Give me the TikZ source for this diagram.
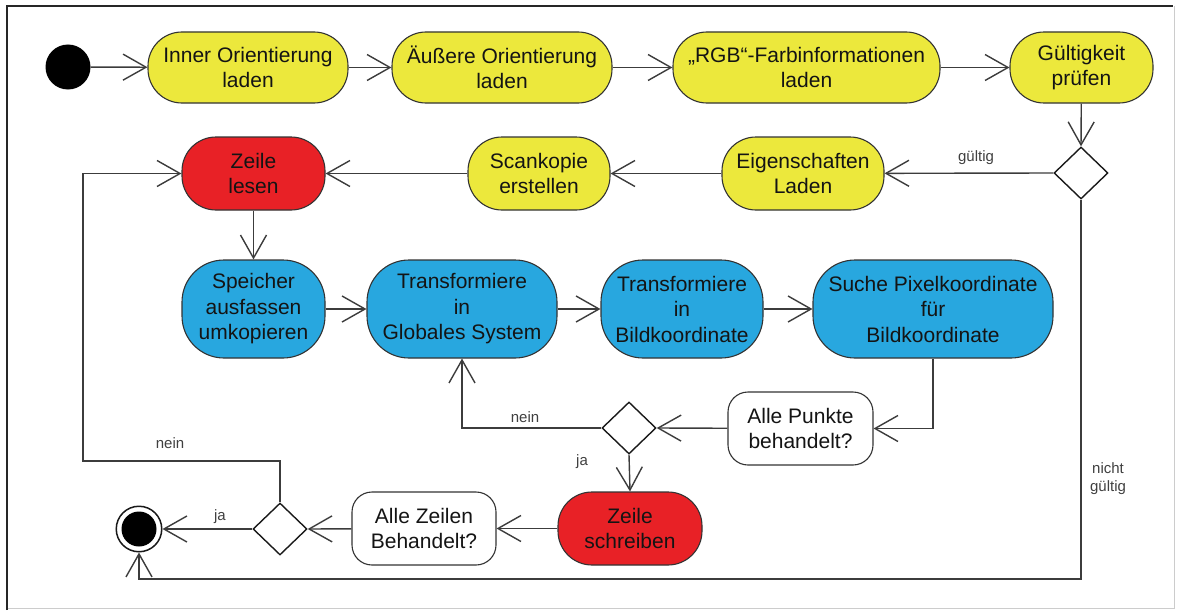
\documentclass[tikz,border=0pt]{standalone}
\usepackage{fontspec}
\setmainfont{Liberation Sans}
\usetikzlibrary{arrows.meta,shapes.geometric}
\definecolor{actyellow}{HTML}{ECE83C}
\definecolor{actred}{HTML}{E82126}
\definecolor{actblue}{HTML}{28A7DF}
\definecolor{edgegray}{HTML}{3C3C3C}
\begin{document}
\begin{tikzpicture}[x=1pt,y=-1pt,
  act/.style={draw=black!80, line width=1.1pt, align=center, inner sep=0pt,
    font=\fontsize{21}{25.5}\selectfont, text=black!92},
  yact/.style={act, fill=actyellow, rounded corners=34pt, minimum height=71pt},
  ract/.style={act, fill=actred, rounded corners=34pt, minimum height=73pt},
  bact/.style={act, fill=actblue, rounded corners=42pt, minimum height=98pt},
  qbox/.style={act, fill=white, rounded corners=20pt, minimum height=73pt},
  decision/.style={diamond, draw=black!90, line width=1.4pt, fill=white,
    minimum width=54pt, minimum height=52pt, inner sep=0pt},
  flow/.style={draw=edgegray, line width=1.4pt,
    -{Straight Barb[length=23pt,width=26pt]}},
  lbl/.style={font=\fontsize{15}{18}\selectfont, text=black!75, align=center}]

\useasboundingbox (0,0) rectangle (1177,610);
\fill[white] (0,0) rectangle (1177,610);

% frame
\draw[line width=2.2pt, black!85] (7,610) -- (7,6) -- (1173,6);
\draw[line width=0.8pt, black!20] (1174.5,6) -- (1174.5,608.5) -- (8,608.5);

% start and end
\node[circle, fill=black, minimum size=45pt, inner sep=0pt] (start) at (68,67) {};
\node[circle, draw=black!90, line width=1.5pt, minimum size=45.5pt, inner sep=0pt] (end) at (139,529) {};
\fill[black] (end.center) circle (17.5);

% first row
\node[yact, minimum width=200pt] (inner) at (248,67.5) {Inner Orientierung\\laden};
\node[yact, minimum width=220pt] (outer) at (502,67.5) {Äußere Orientierung\\laden};
\node[yact, minimum width=267pt] (rgb) at (806.5,67.5) {„RGB“-Farbinformationen\\laden};
\node[yact, minimum width=143pt] (valid) at (1081.5,67.5) {Gültigkeit\\prüfen};

% second row
\node[decision] (d1) at (1081,173) {};
\node[yact, minimum width=162pt, minimum height=73pt] (props) at (803,173.5) {Eigenschaften\\Laden};
\node[yact, minimum width=142pt, minimum height=73pt] (scan) at (539,173.5) {Scankopie\\erstellen};
\node[ract, minimum width=143pt] (readline) at (253.5,173.5) {Zeile\\lesen};

% third row
\node[bact, minimum width=143pt] (mem) at (253.5,309) {Speicher\\ausfassen\\umkopieren};
\node[bact, minimum width=190pt] (glob) at (462,309) {Transformiere\\in\\Globales System};
\node[bact, minimum width=162pt] (img) at (682,309) {Transformiere\\in\\Bildkoordinate};
\node[bact, minimum width=240pt] (pix) at (933,309) {Suche Pixelkoordinate\\für\\Bildkoordinate};

% fourth and fifth rows
\node[qbox, minimum width=145pt] (allpts) at (800.5,428.5) {Alle Punkte\\behandelt?};
\node[decision] (d2) at (629,428) {};
\node[ract, minimum width=144pt] (writeline) at (630,528.5) {Zeile\\schreiben};
\node[qbox, minimum width=144pt] (alllines) at (424,528.5) {Alle Zeilen\\Behandelt?};
\node[decision] (d3) at (280,529) {};

% connectors
\draw[flow] (start) -- (inner);
\draw[flow] (inner) -- (outer);
\draw[flow] (outer) -- (rgb);
\draw[flow] (rgb) -- (valid);
\draw[flow] (valid) -- (d1.north);
\draw[flow] (d1.west) -- (props);
\draw[flow] (props) -- (scan);
\draw[flow] (scan) -- (readline);
\draw[flow] (readline) -- (mem);
\draw[flow] (mem) -- (glob);
\draw[flow] (glob) -- (img);
\draw[flow] (img) -- (pix);
\draw[flow] (pix.south) |- (allpts.east);
\draw[flow] (allpts) -- (d2.east);
\draw[flow] (d2.west) -| (glob.south);
\draw[flow] (d2.south) -- (writeline.north);
\draw[flow] (writeline) -- (alllines);
\draw[flow] (alllines) -- (d3.east);
\draw[flow] (d3.west) -- (end.east);
\draw[flow] (d3.north) |- (83,461) |- (readline.west);
\draw[flow] (d1.south) |- (139,579) -- (end.south);

% guard labels
\node[lbl] (lgueltig) at (976,158) {gültig};
\node[lbl] (lnein1) at (525,417) {nein};
\node[lbl] (lja1) at (582,462) {ja};
\node[lbl] (lnein2) at (170,443) {nein};
\node[lbl] (lja2) at (220,517) {ja};
\node[lbl] (lnicht) at (1108,479) {nicht\\gültig};
\end{tikzpicture}
\end{document}
